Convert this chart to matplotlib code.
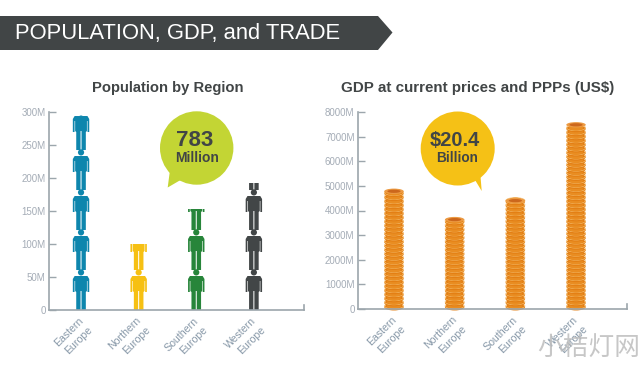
import numpy as np
import matplotlib
matplotlib.use("Agg")
import matplotlib.pyplot as plt
from matplotlib.patches import Circle, Ellipse, Polygon, PathPatch, Rectangle
from matplotlib.path import Path
from matplotlib.transforms import Affine2D, ScaledTranslation

plt.rcParams['font.family'] = ['Liberation Sans', 'DejaVu Sans']

######### data
regions = ['Eastern\nEurope', 'Northern\nEurope', 'Southern\nEurope', 'Western\nEurope']
population = [295, 100, 153, 192]
gdp = [4780, 3630, 4400, 7480]
pop_ticks = [0, 50, 100, 150, 200, 250, 300]
pop_labels = ['0', '50M', '100M', '150M', '200M', '250M', '300M']
gdp_ticks = [0, 1000, 2000, 3000, 4000, 5000, 6000, 7000, 8000]
gdp_labels = ['0', '1000M', '2000M', '3000M', '4000M', '5000M', '6000M', '7000M', '8000M']
person_colors = ['#0E86AD', '#F6C013', '#27853A', '#424647']

AXIS = '#9CA6AC'
TICK = '#A4ACB6'
DARK = '#414546'
W, H = 640, 366

fig = plt.figure(figsize=(W/100, H/100), dpi=100, facecolor='white')


def make_axes(x0, x1, y0, y1):
    ## pixel box -> figure fraction
    ax = fig.add_axes([x0/W, 1-y0/H, (x1-x0)/W, (y0-y1)/H])
    ax.patch.set_alpha(0)
    for s in ['top', 'right']:
        ax.spines[s].set_visible(False)
    for s in ['left', 'bottom']:
        ax.spines[s].set_color(AXIS)
        ax.spines[s].set_linewidth(1.2)
    ax.tick_params(axis='y', direction='in', length=5, width=1, color=AXIS,
                   labelcolor=TICK, labelsize=7, pad=2.5)
    ax.tick_params(axis='x', length=0, labelcolor='#8798A8', labelsize=7.6, pad=4)
    return ax


def set_category_labels(ax):
    ax.set_xticks(range(4))
    labs = ax.set_xticklabels(regions, rotation=45, ha='right', va='top', rotation_mode='anchor',
                              multialignment='right', linespacing=1.35)
    ## tick labels sit a bit left of their tick in the original
    shift = ScaledTranslation(-2/72, 0, fig.dpi_scale_trans)
    for lab in labs:
        lab.set_transform(lab.get_transform() + shift)
    ## little upward tick closing the x axis
    ax.plot([1, 1], [0, 0.025], transform=ax.transAxes, color=AXIS, lw=1.2, clip_on=False)


def person_path():
    ## one figure in pixels, feet at 0, x centred
    pts = [(-8.2, 18), (-6.5, 18), (-6.5, 29), (-5.9, 29), (-5.9, 19),
           (-4.8, 18), (-4.8, 0), (-0.5, 0), (-0.5, 19), (0.5, 19), (0.5, 0),
           (4.8, 0), (4.8, 18), (5.9, 19), (5.9, 29), (6.5, 29), (6.5, 18), (8.2, 18),
           (8.2, 31), (6.4, 34), (-6.4, 34), (-8.2, 31)]
    body = Path(pts + [pts[0]], [Path.MOVETO] + [Path.LINETO]*(len(pts)-1) + [Path.CLOSEPOLY])
    head = Path.circle((0, 37.6), 3.1)
    return Path.make_compound_path(body, head)


def draw_people(ax, x, value, color, px_x, px_y, period=60.6):
    top = ax.add_patch(Rectangle((x-0.3, 0), 0.6, value, fc='none', ec='none'))
    tf = Affine2D().scale(1/px_x, 1/px_y)
    for base in np.arange(0, value, period):
        p = PathPatch(person_path(), fc=color, ec='none',
                      transform=tf + Affine2D().translate(x, base) + ax.transData)
        ax.add_patch(p)
        p.set_clip_path(top)


def draw_coins(ax, x, value, px_x, px_y):
    w = 19.5/px_x
    coin = 4.05/px_y
    ys = np.arange(coin/2, value, coin)
    for y in ys:
        ax.add_patch(Ellipse((x, y), w, 7/px_y, fc='#E37F14', ec='none', zorder=2, clip_on=False))
        ax.add_patch(Ellipse((x, y+1.1/px_y), w*0.98, 6/px_y, fc='none', ec='#F5BE6E', lw=0.5, zorder=2, clip_on=False))
        ax.add_patch(Ellipse((x, y+1.1/px_y), w*0.72, 6/px_y, fc='#E98D22', ec='none', zorder=2, clip_on=False))
    ax.add_patch(Ellipse((x, value), w, 5.4/px_y, fc='#EC9A42', ec='none', zorder=3))
    ax.add_patch(Ellipse((x, value), w*0.68, 3.2/px_y, fc='#CC671C', ec='none', zorder=3))


######### population by region
ax1 = make_axes(49, 304, 310, 112)
ax1.set_xlim(-0.556, 3.87)
ax1.set_ylim(0, 300)
ax1.set_yticks(pop_ticks)
ax1.set_yticklabels(pop_labels)
set_category_labels(ax1)
for i in range(4):
    draw_people(ax1, i, population[i], person_colors[i], 255/4.426, 198/300)

######### GDP
ax2 = make_axes(358, 627, 309, 112)
ax2.set_xlim(-0.593, 3.84)
ax2.set_ylim(0, 8000)
ax2.set_yticks(gdp_ticks)
ax2.set_yticklabels(gdp_labels)
set_category_labels(ax2)
for i in range(4):
    draw_coins(ax2, i, gdp[i], 269/4.433, 197/8000)

######### overlay in pixels: banner, titles, bubbles
ov = fig.add_axes([0, 0, 1, 1], zorder=5)
ov.set_xlim(0, W)
ov.set_ylim(H, 0)
ov.axis('off')
ov.patch.set_alpha(0)

ov.add_patch(Polygon([(0, 16), (378, 16), (392.5, 32.5), (378, 50), (0, 50)], fc=DARK, ec='none'))
ov.text(15, 33, 'POPULATION, GDP, and TRADE', color='white', fontsize=15.8, ha='left', va='center')
ov.text(167.5, 88, 'Population by Region', color=DARK, fontsize=10.6, fontweight='bold', ha='center', va='center')
ov.text(478, 88, 'GDP at current prices and PPPs (US$)', color=DARK, fontsize=10.9, fontweight='bold', ha='center', va='center')

ov.add_patch(Circle((196.7, 148), 36.7, fc='#C3D534', ec='none'))
ov.add_patch(Polygon([(170, 170), (167.7, 187.5), (184, 178)], fc='#C3D534', ec='none'))
ov.text(194.5, 140, '783', color=DARK, fontsize=16, fontweight='bold', ha='center', va='center')
ov.text(197, 158, 'Million', color=DARK, fontsize=10, fontweight='bold', ha='center', va='center')

ov.add_patch(Circle((457.7, 148.5), 37, fc='#F5C116', ec='none'))
ov.add_patch(Polygon([(472, 175), (481.7, 191), (480, 170)], fc='#F5C116', ec='none'))
ov.text(455, 140, '$20.4', color=DARK, fontsize=14.5, fontweight='bold', ha='center', va='center')
ov.text(457, 158, 'Billion', color=DARK, fontsize=9.8, fontweight='bold', ha='center', va='center')

## watermark
ov.text(589, 349, '小桔灯网', color='#BDBDBD', fontsize=18.5, family=['Noto Sans CJK SC', 'DejaVu Sans'],
        ha='center', va='center', alpha=0.85)

fig.savefig('out.png', dpi=100)
